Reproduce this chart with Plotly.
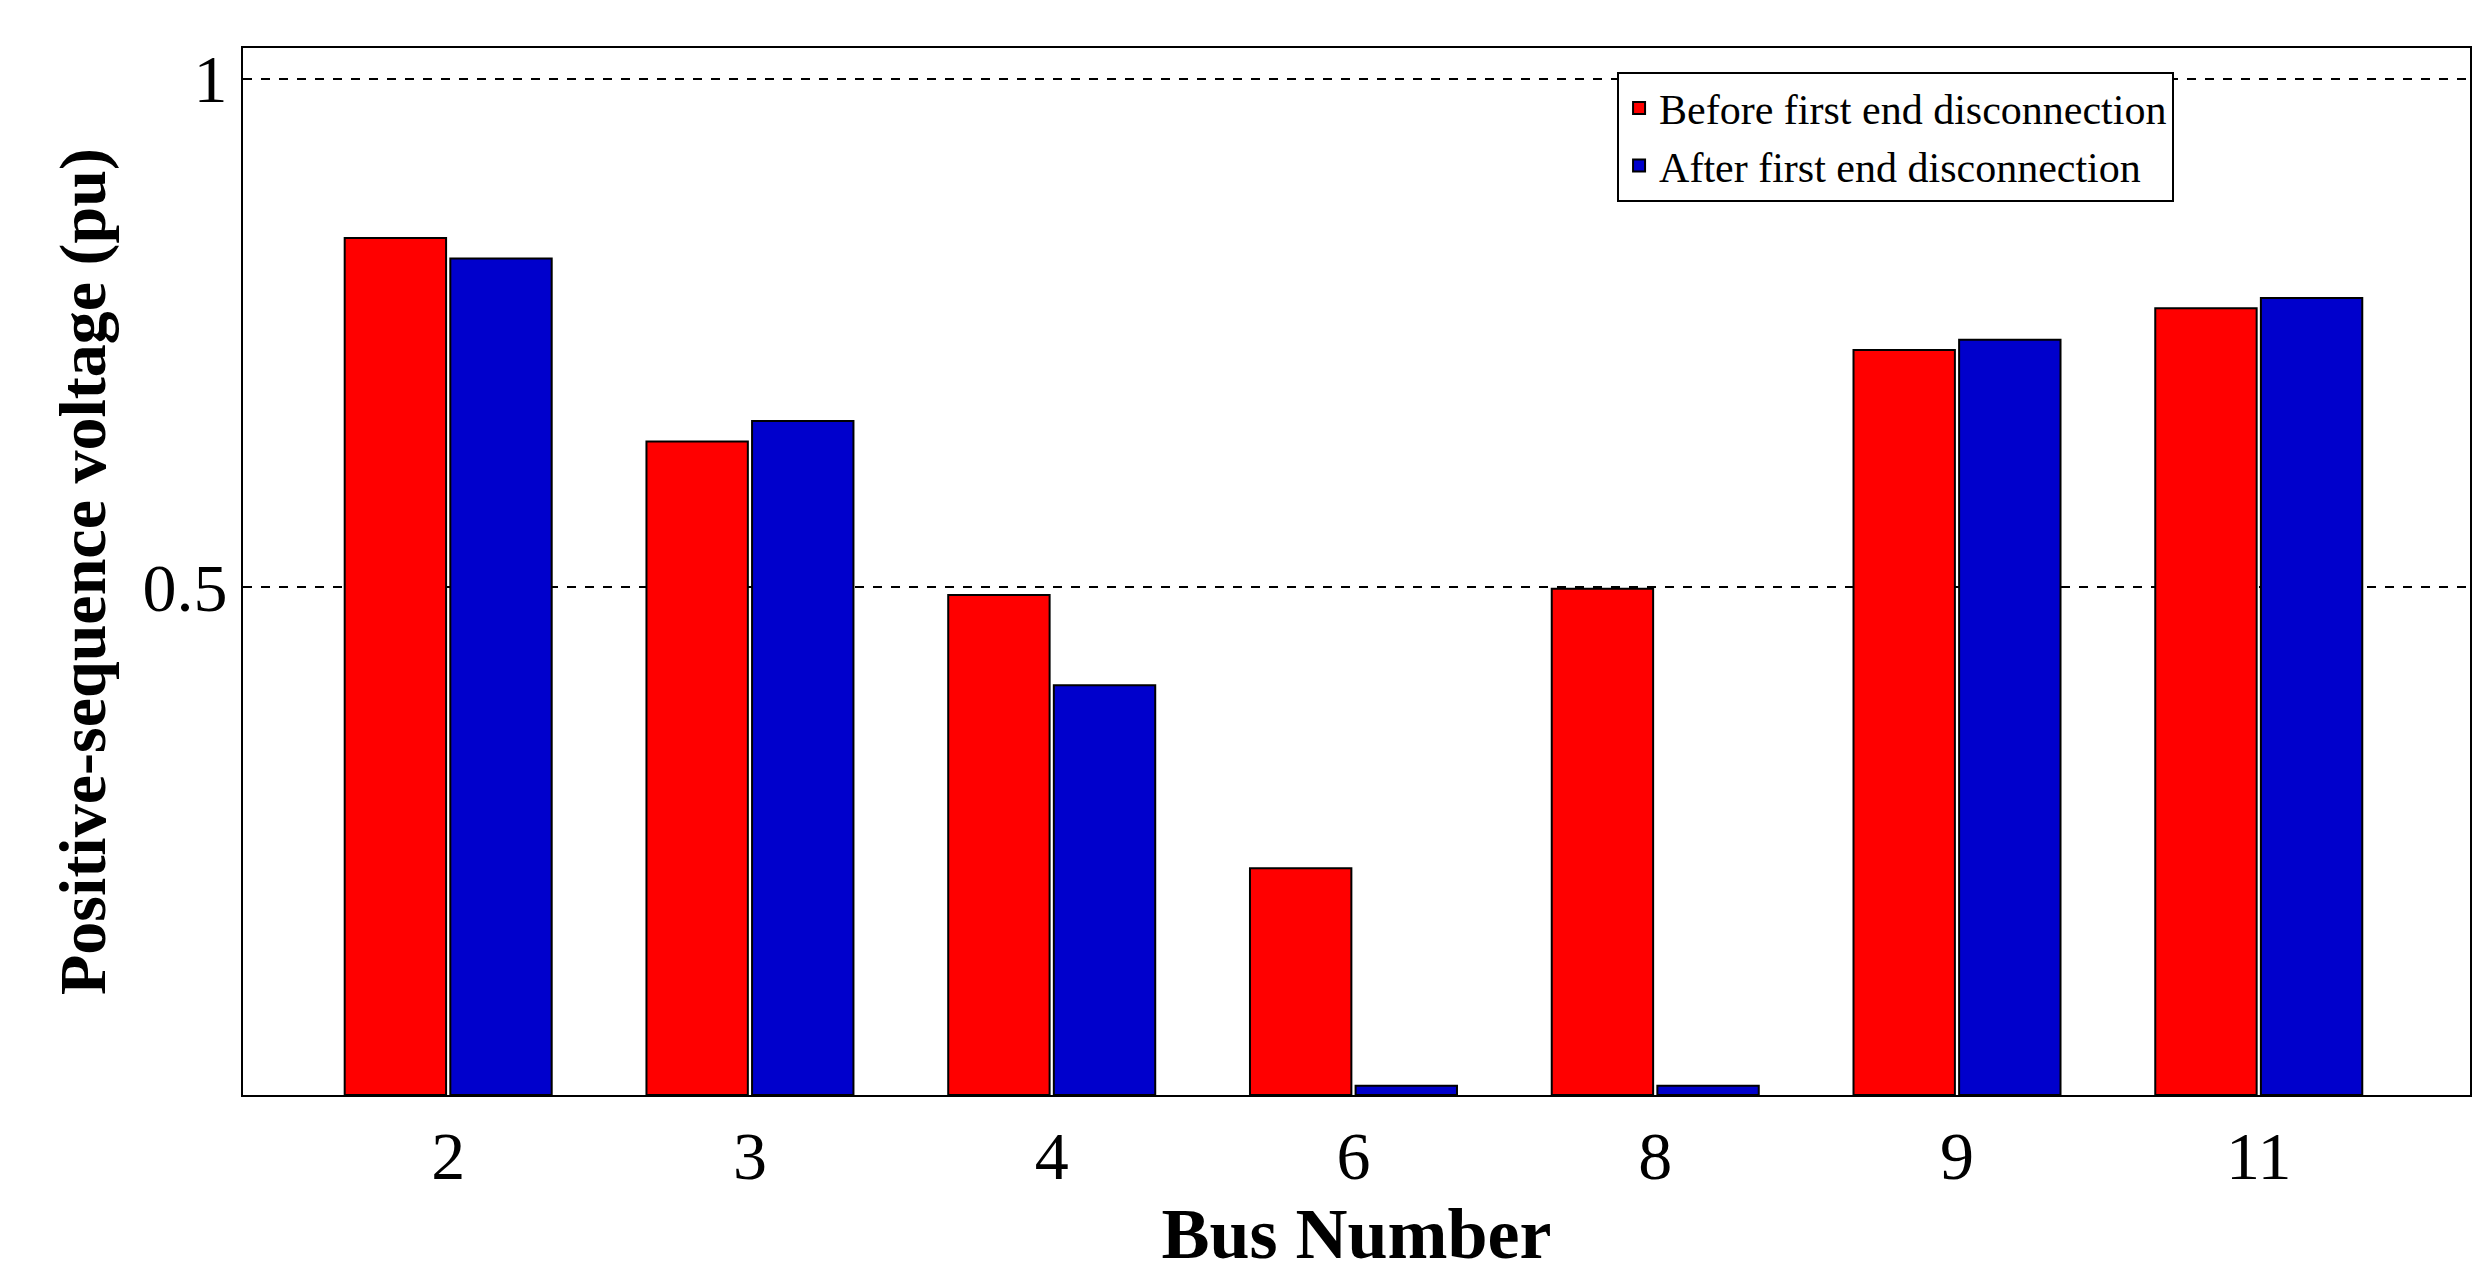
import plotly.graph_objects as go

buses = ["2", "3", "4", "6", "8", "9", "11"]
before = [0.843, 0.643, 0.492, 0.223, 0.498, 0.733, 0.774]
after = [0.823, 0.663, 0.403, 0.009, 0.009, 0.743, 0.784]

fig = go.Figure()
fig.add_bar(x=buses, y=before, name="Before first end disconnection",
            marker=dict(color="#ff0000", line=dict(color="black", width=2)))
fig.add_bar(x=buses, y=after, name="After first end disconnection",
            marker=dict(color="#0000cc", line=dict(color="black", width=2)))

font = "Liberation Serif, Times New Roman, serif"
fig.update_layout(
    width=2481, height=1276, plot_bgcolor="white", paper_bgcolor="white",
    margin=dict(l=235, r=19, t=40, b=189),
    barmode="group", bargap=0.3, bargroupgap=0.04,
    font=dict(family=font, color="black"),
    legend=dict(x=0.617, y=0.977, xanchor="left", yanchor="top",
                bordercolor="black", borderwidth=2, bgcolor="white",
                font=dict(size=42, family=font), itemsizing="constant",
                tracegroupgap=30),
)
fig.update_xaxes(type="category", range=[-0.68, 6.70], showline=True, mirror=True,
                 linecolor="black", linewidth=2, ticks="", tickfont=dict(size=68),
                 title=dict(text="<b>Bus Number</b>", font=dict(size=72), standoff=10))
fig.update_yaxes(range=[0, 1.03], tickvals=[0.5, 1], ticktext=["0.5", "1"],
                 showline=True, mirror=True, linecolor="black", linewidth=2,
                 showgrid=True, gridcolor="black", griddash="dash", gridwidth=1.5,
                 zeroline=False, ticks="", tickfont=dict(size=68),
                 title=dict(text="<b>Positive-sequence voltage (pu)</b>", font=dict(size=66), standoff=15))
fig.write_html("out.html")
